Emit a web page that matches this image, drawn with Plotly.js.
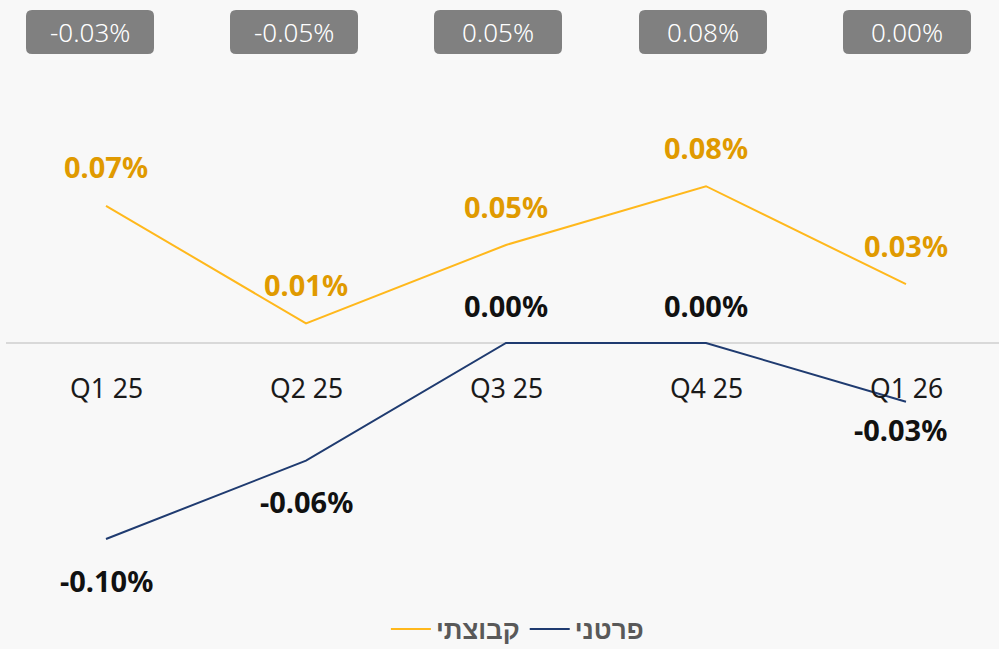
<!DOCTYPE html>
<html>
<head>
<meta charset="utf-8">
<script src="https://cdn.plot.ly/plotly-3.0.1.min.js"></script>
<style>html,body{margin:0;padding:0;background:#f8f8f8;}#chart{width:999px;height:649px;}</style>
</head>
<body>
<div id="chart"></div>
<script>
const categories = ["Q1 25", "Q2 25", "Q3 25", "Q4 25", "Q1 26"];
const groupName = "קבוצתי";
const individualName = "פרטני";
const groupValues = [0.07, 0.01, 0.05, 0.08, 0.03];
const individualValues = [-0.10, -0.06, 0.00, 0.00, -0.03];
const diffValues = [-0.03, -0.05, 0.05, 0.08, 0.00];

const xs = categories.map((c, i) => i);
const fmt = v => v.toFixed(2) + "%";
const FONT = "Noto Sans, sans-serif";

const traces = [
  {x: xs, y: groupValues, type: "scatter", mode: "lines", name: groupName,
   line: {color: "#FFB81C", width: 2}, hoverinfo: "skip"},
  {x: xs, y: individualValues, type: "scatter", mode: "lines", name: individualName,
   line: {color: "#1F3B70", width: 2}, hoverinfo: "skip"}
];

const annotations = [];
categories.forEach((c, i) => {
  annotations.push({x: i, y: 0, xref: "x", yref: "y", text: c, showarrow: false,
    yanchor: "middle", yshift: -45, font: {family: FONT, size: 26.5, color: "#1a1a1a"}});
  annotations.push({x: i, y: groupValues[i], xref: "x", yref: "y", text: "<b>" + fmt(groupValues[i]) + "</b>",
    showarrow: false, yanchor: "middle", yshift: 39, font: {family: FONT, size: 29, color: "#E09A00"}});
  const below = individualValues[i] < 0;
  const shiftY = below ? (i === 4 ? -28 : -41) : 38;
  annotations.push({x: i, y: individualValues[i], xref: "x", yref: "y", text: "<b>" + fmt(individualValues[i]) + "</b>",
    showarrow: false, yanchor: "middle", yshift: shiftY, xshift: i === 4 ? -6 : 0,
    font: {family: FONT, size: 29, color: "#111111"}});
});

// top boxes
const W = 993, H = 649, L = 6;
const boxCenters = [90, 294, 498, 703, 907];
const shapes = [];
const px2x = p => (p - L) / W;
const py2y = p => (H - p) / H;
diffValues.forEach((v, i) => {
  const x0 = boxCenters[i] - 64, x1 = boxCenters[i] + 64, y0 = 10, y1 = 54, r = 6;
  const path = `M ${px2x(x0 + r)},${py2y(y0)} L ${px2x(x1 - r)},${py2y(y0)} Q ${px2x(x1)},${py2y(y0)} ${px2x(x1)},${py2y(y0 + r)} ` +
    `L ${px2x(x1)},${py2y(y1 - r)} Q ${px2x(x1)},${py2y(y1)} ${px2x(x1 - r)},${py2y(y1)} ` +
    `L ${px2x(x0 + r)},${py2y(y1)} Q ${px2x(x0)},${py2y(y1)} ${px2x(x0)},${py2y(y1 - r)} ` +
    `L ${px2x(x0)},${py2y(y0 + r)} Q ${px2x(x0)},${py2y(y0)} ${px2x(x0 + r)},${py2y(y0)} Z`;
  shapes.push({type: "path", xref: "paper", yref: "paper", path: path,
    fillcolor: "#808080", line: {width: 0}, layer: "above"});
  annotations.push({xref: "paper", yref: "paper", x: px2x(boxCenters[i]), y: py2y(32),
    text: fmt(v), showarrow: false, xanchor: "center", yanchor: "middle",
    font: {family: FONT, size: 26, color: "#ffffff", weight: 300}});
});

const pxPerUnit = 1960;
const zeroPx = 343;
const layout = {
  width: 999, height: 649,
  margin: {l: L, r: 0, t: 0, b: 0, autoexpand: false},
  paper_bgcolor: "#f8f8f8", plot_bgcolor: "#f8f8f8",
  showlegend: true,
  legend: {orientation: "h", x: 0.515, xanchor: "center", y: py2y(629), yanchor: "middle",
    bgcolor: "rgba(0,0,0,0)", font: {family: FONT, size: 26, color: "#595959", weight: 700},
    itemwidth: 40, traceorder: "normal"},
  xaxis: {range: [-0.5, -0.5 + W / 200], showgrid: false, zeroline: false, showticklabels: false,
    showline: false, fixedrange: true},
  yaxis: {range: [-(H - zeroPx) / pxPerUnit, zeroPx / pxPerUnit], showgrid: false, zeroline: true,
    zerolinecolor: "#d9d9d9", zerolinewidth: 2, showticklabels: false, showline: false, fixedrange: true},
  annotations: annotations,
  shapes: shapes
};

Plotly.newPlot("chart", traces, layout, {displayModeBar: false, staticPlot: true});
</script>
</body>
</html>
